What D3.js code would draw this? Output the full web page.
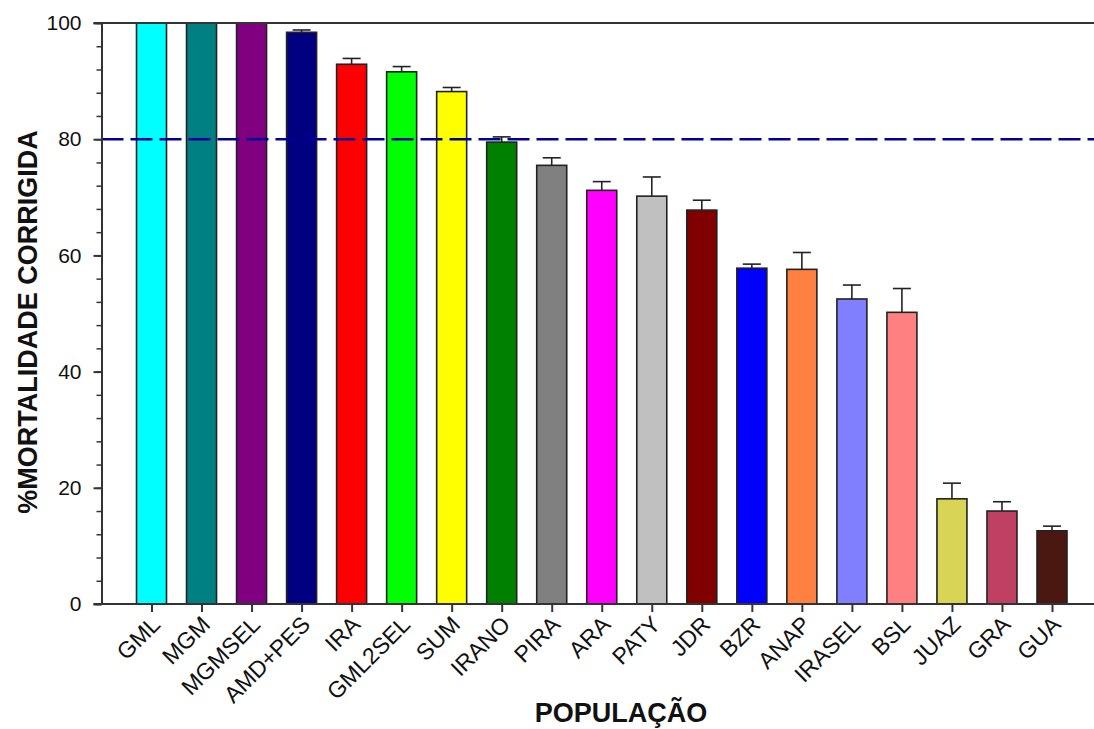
<!DOCTYPE html>
<html>
<head>
<meta charset="utf-8">
<script src="https://cdn.jsdelivr.net/npm/d3@7"></script>
<style>
  body { margin: 0; background: #fff; }
  svg { display: block; font-family: Arial, "Liberation Sans", sans-serif; }
</style>
</head>
<body>
<svg id="chart" width="1094" height="729"></svg>
<script>
///// *** DATA *** /////
var populations = ['GML', 'MGM', 'MGMSEL', 'AMD+PES', 'IRA', 'GML2SEL', 'SUM', 'IRANO', 'PIRA', 'ARA',
                   'PATY', 'JDR', 'BZR', 'ANAP', 'IRASEL', 'BSL', 'JUAZ', 'GRA', 'GUA'];
var mortality = [100, 100, 100, 98.4, 92.9, 91.6, 88.2, 79.5, 75.5, 71.2,
                 70.2, 67.8, 57.8, 57.6, 52.5, 50.2, 18.1, 16.0, 12.6];
var errors = [0, 0, 0, 0.4, 1.0, 0.9, 0.7, 0.9, 1.3, 1.5,
              3.3, 1.7, 0.7, 2.9, 2.4, 4.1, 2.7, 1.6, 0.8];
var barColors = ['#00ffff', '#008080', '#800080', '#000080', '#ff0000', '#00ff00', '#ffff00', '#008000', '#808080', '#ff00ff',
                 '#c0c0c0', '#800000', '#0000ff', '#ff8040', '#8080ff', '#ff8080', '#d8d456', '#c04064', '#4a1810'];
var yTicks = [0, 20, 40, 60, 80, 100];
var threshold = 80;

///// *** SETUP *** /////
var svg = d3.select('#chart'),
    axisColor = '#333',
    plotLeft = 101.5,
    plotRight = 1102,
    plotTop = 23,
    plotBottom = 604;

var x = d3.scalePoint()
  .domain(populations)
  .range([plotLeft + 50, plotRight - 50]);

var y = d3.scaleLinear()
  .domain([0, 100])
  .range([plotBottom, plotTop]);

var barWidth = 30,
    capWidth = 18;

// bars
svg.selectAll('rect.bar')
  .data(populations)
  .enter().append('rect')
  .attr('class', 'bar')
  .attr('x', function(d) { return x(d) - barWidth / 2; })
  .attr('y', function(d, i) { return y(mortality[i]); })
  .attr('width', barWidth)
  .attr('height', function(d, i) { return plotBottom - y(mortality[i]); })
  .attr('fill', function(d, i) { return barColors[i]; })
  .attr('stroke', '#222')
  .attr('stroke-width', 1.6);

// error bars (upper only)
var err = svg.selectAll('g.err')
  .data(populations.filter(function(d, i) { return errors[i] > 0; }))
  .enter().append('g')
  .attr('class', 'err')
  .attr('stroke', '#222')
  .attr('stroke-width', 1.6);

err.append('line')
  .attr('x1', function(d) { return x(d); })
  .attr('x2', function(d) { return x(d); })
  .attr('y1', function(d) { var i = populations.indexOf(d); return y(mortality[i]); })
  .attr('y2', function(d) { var i = populations.indexOf(d); return y(mortality[i] + errors[i]); });

err.append('line')
  .attr('x1', function(d) { return x(d) - capWidth / 2; })
  .attr('x2', function(d) { return x(d) + capWidth / 2; })
  .attr('y1', function(d) { var i = populations.indexOf(d); return y(mortality[i] + errors[i]); })
  .attr('y2', function(d) { var i = populations.indexOf(d); return y(mortality[i] + errors[i]); });

// dashed 80% reference line
svg.append('line')
  .attr('x1', plotLeft)
  .attr('x2', 1094)
  .attr('y1', y(threshold))
  .attr('y2', y(threshold))
  .attr('stroke', '#000099')
  .attr('stroke-width', 2.5)
  .attr('stroke-dasharray', '22,7');

// top frame line
svg.append('line')
  .attr('x1', plotLeft - 8)
  .attr('x2', 1094)
  .attr('y1', plotTop)
  .attr('y2', plotTop)
  .attr('stroke', axisColor)
  .attr('stroke-width', 2);

///// *** AXES *** /////
// minor ticks
var yMinor = svg.append('g')
  .attr('transform', 'translate(' + plotLeft + ',0)')
  .call(d3.axisLeft(y).tickValues(d3.range(0, 101, 4)).tickSize(5).tickFormat(''));
yMinor.select('.domain').remove();
yMinor.selectAll('line').attr('stroke', axisColor).attr('stroke-width', 1.5);

var yAxis = svg.append('g')
  .attr('transform', 'translate(' + plotLeft + ',0)')
  .call(d3.axisLeft(y).tickValues(yTicks).tickSize(8).tickPadding(12).tickSizeOuter(0));
yAxis.select('.domain').attr('stroke', axisColor).attr('stroke-width', 2);
yAxis.selectAll('line').attr('stroke', axisColor).attr('stroke-width', 2);
yAxis.selectAll('text')
  .attr('font-size', 21)
  .attr('font-family', 'Arial, "Liberation Sans", sans-serif')
  .attr('fill', '#111');

var xAxis = svg.append('g')
  .attr('transform', 'translate(0,' + plotBottom + ')')
  .call(d3.axisBottom(x).tickSize(8).tickSizeOuter(0).tickFormat(''));
xAxis.select('.domain').attr('d', 'M' + (plotLeft - 8) + ',0H1094').attr('stroke', axisColor).attr('stroke-width', 2);
xAxis.selectAll('line').attr('stroke', axisColor).attr('stroke-width', 2);

// rotated category labels
svg.selectAll('text.xlabel')
  .data(populations)
  .enter().append('text')
  .attr('class', 'xlabel')
  .attr('transform', function(d) { return 'translate(' + (x(d) + 10) + ',' + (plotBottom + 22) + ') rotate(-45)'; })
  .attr('text-anchor', 'end')
  .attr('font-size', 23)
  .attr('fill', '#111')
  .text(function(d) { return d; });

// axis titles
svg.append('text')
  .attr('x', 621)
  .attr('y', 722)
  .attr('text-anchor', 'middle')
  .attr('font-size', 27)
  .attr('font-weight', 'bold')
  .attr('fill', '#111')
  .text('POPULAÇÃO');

svg.append('text')
  .attr('transform', 'translate(37,' + 322 + ') rotate(-90)')
  .attr('text-anchor', 'middle')
  .attr('font-size', 27)
  .attr('font-weight', 'bold')
  .attr('fill', '#111')
  .text('%MORTALIDADE CORRIGIDA');
</script>
</body>
</html>
